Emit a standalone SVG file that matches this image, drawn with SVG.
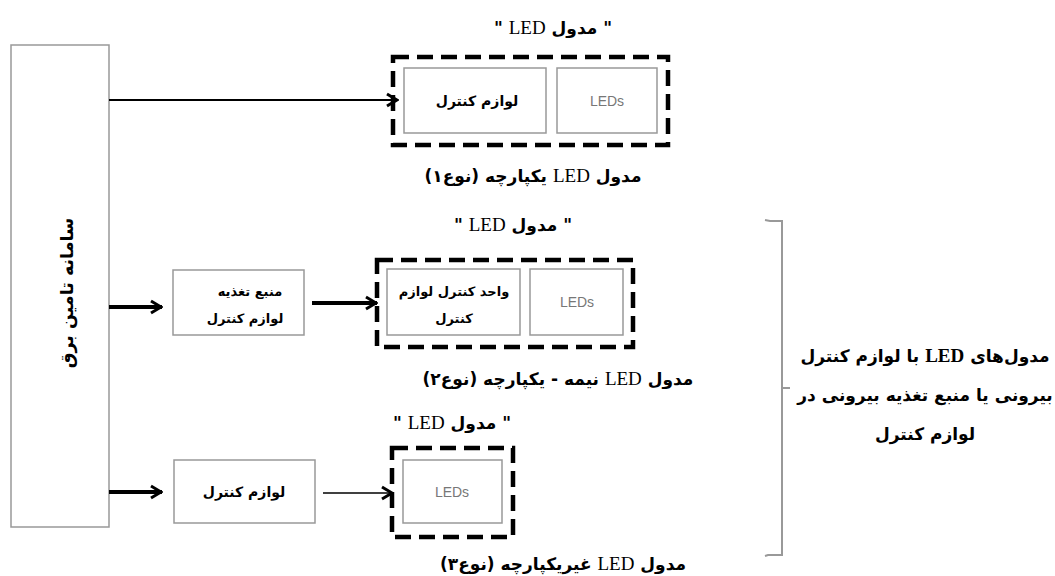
<svg xmlns="http://www.w3.org/2000/svg" width="1055" height="576" viewBox="0 0 1055 576">
<defs>
<style>
.t{font-family:"DejaVu Sans","Liberation Serif",sans-serif;font-weight:bold;fill:#000;text-anchor:middle;direction:rtl;unicode-bidi:embed}
.lbl{font-size:17px}
.in{font-size:14px}
.l{font-family:"Liberation Serif",serif;font-weight:normal;font-size:19px}
.lb{font-family:"Liberation Serif",serif;font-weight:bold;font-size:19px}
.led{font-family:"Liberation Sans",Arial,sans-serif;font-size:14px;fill:#777;text-anchor:middle}
.box{fill:#fff;stroke:#999;stroke-width:1.5}
.dash{fill:none;stroke:#000;stroke-width:4.5;stroke-dasharray:16 8}
.ln{fill:none;stroke:#000}
</style>
<marker id="ah" markerUnits="userSpaceOnUse" viewBox="0 0 14 16" refX="13" refY="8" markerWidth="14" markerHeight="16" orient="auto">
<path d="M2,2 L12,8 L2,14" fill="none" stroke="#000" stroke-width="3"/>
</marker>
</defs>
<rect width="1055" height="576" fill="#fff"/>

<g id="power-system">
<rect class="box" x="11" y="45" width="98" height="482"/>
<text class="t" font-size="17.5" transform="translate(73,293) rotate(-90)">سامانه تامین برق</text>
</g>

<g id="module1">
<text class="t lbl" x="553" y="34">" مدول <tspan class="l">LED</tspan> "</text>
<rect class="dash" x="393" y="57" width="275" height="88"/>
<rect class="box" x="404" y="68" width="142" height="65"/>
<text class="t in" x="477" y="106">لوازم کنترل</text>
<rect class="box" x="557" y="68" width="100" height="65"/>
<text class="led" x="607" y="106">LEDs</text>
<text class="t lbl" x="533" y="182">مدول <tspan class="l">LED</tspan> یکپارچه (نوع۱)</text>
</g>

<g id="supply2">
<rect class="box" x="173" y="270" width="131" height="65"/>
<text class="t" font-size="13" x="250" y="296">منبع تغذیه</text>
<text class="t" font-size="13" x="245" y="323">لوازم کنترل</text>
</g>

<g id="module2">
<text class="t lbl" x="513" y="231">" مدول <tspan class="l">LED</tspan> "</text>
<rect class="dash" x="377" y="260" width="256" height="87"/>
<rect class="box" x="387" y="269" width="133" height="66"/>
<text class="t" font-size="13" x="454" y="296">واحد کنترل لوازم</text>
<text class="t" font-size="13" x="454" y="323">کنترل</text>
<rect class="box" x="530" y="269" width="93" height="66"/>
<text class="led" x="577" y="307">LEDs</text>
<text class="t lbl" x="558" y="385">مدول <tspan class="l">LED</tspan> نیمه - یکپارچه (نوع۲)</text>
</g>

<g id="control3">
<rect class="box" x="174" y="460" width="141" height="63"/>
<text class="t in" x="244" y="497">لوازم کنترل</text>
</g>

<g id="module3">
<text class="t lbl" x="452" y="429">" مدول <tspan class="l">LED</tspan> "</text>
<rect class="dash" x="392" y="448" width="121" height="89"/>
<rect class="box" x="403" y="460" width="99" height="63"/>
<text class="led" x="452" y="497">LEDs</text>
<text class="t lbl" x="563" y="570">مدول <tspan class="l">LED</tspan> غیریکپارچه (نوع۳)</text>
</g>

<g id="group-label">
<path d="M765,220 L770,221 L782,221 L782,555 L768,555 L765,556" fill="none" stroke="#999" stroke-width="2"/>
<path d="M782,388 L790,388" fill="none" stroke="#999" stroke-width="2"/>
<text class="t lbl" x="925" y="362">مدول‌های <tspan class="lb">LED</tspan> با لوازم کنترل</text>
<text class="t lbl" x="925" y="401">بیرونی یا منبع تغذیه بیرونی در</text>
<text class="t lbl" x="925" y="440">لوازم کنترل</text>
</g>

<g id="connectors">
<line class="ln" x1="109" y1="100" x2="398" y2="100" stroke-width="2" marker-end="url(#ah)"/>
<line class="ln" x1="109" y1="307" x2="162" y2="307" stroke-width="4" marker-end="url(#ah)"/>
<line class="ln" x1="312" y1="303" x2="377" y2="303" stroke-width="4" marker-end="url(#ah)"/>
<line class="ln" x1="109" y1="492" x2="162" y2="492" stroke-width="4" marker-end="url(#ah)"/>
<line class="ln" x1="323" y1="493" x2="393" y2="493" stroke-width="1.3" marker-end="url(#ah)"/>
</g>
</svg>
